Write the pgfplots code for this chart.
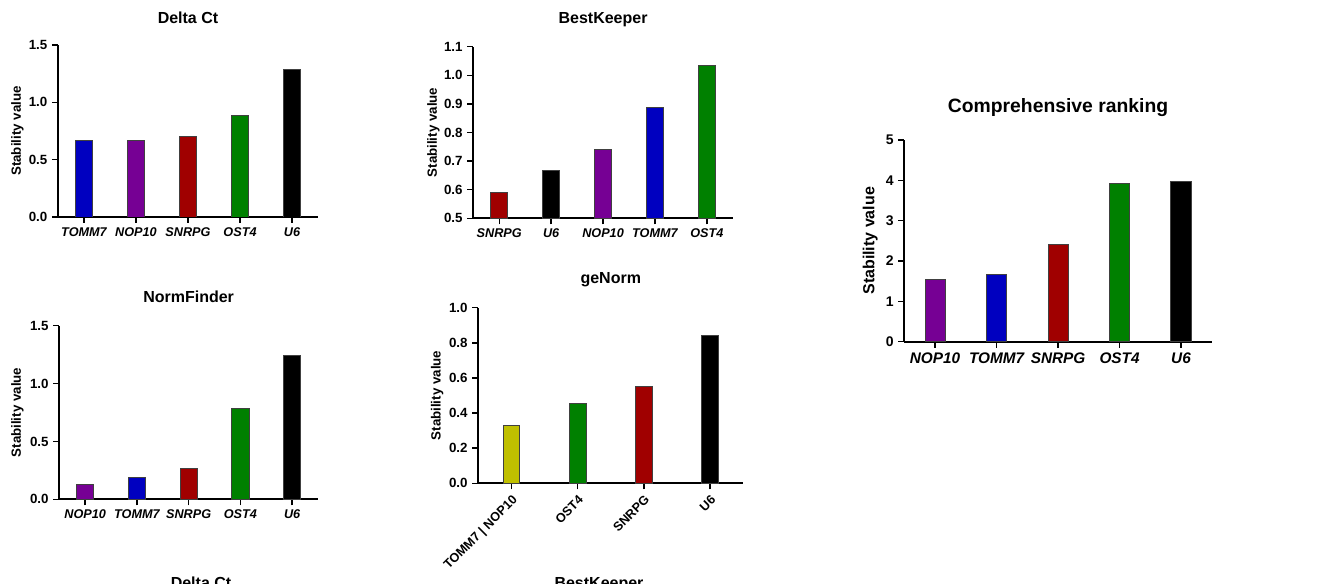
\documentclass[border=0pt]{standalone}
\usepackage{fontspec}
\setmainfont{Liberation Sans}
\usepackage{pgfplots}
\pgfplotsset{compat=1.18}
\definecolor{cBlue}{RGB}{0,0,192}
\definecolor{cPurple}{RGB}{118,0,148}
\definecolor{cRed}{RGB}{160,0,0}
\definecolor{cGreen}{RGB}{0,128,0}
\definecolor{cOlive}{RGB}{192,192,0}
\pgfplotsset{
  panel/.style={
    scale only axis,
    axis x line*=bottom, axis y line*=left,
    axis line style={line width=1.4pt, black, -},
    tick style={line width=1.1pt, black},
    tick align=outside,
    major tick length=4.5pt,
    /pgf/number format/assume math mode=true,
    yticklabel style={font=\bfseries\fontsize{10}{11}\selectfont, /pgf/number format/fixed, /pgf/number format/fixed zerofill, /pgf/number format/precision=1},
    xticklabel style={font=\bfseries\itshape\fontsize{9.5}{10}\selectfont},
    ylabel={Stability value},
    ylabel style={font=\bfseries\fontsize{10}{11}\selectfont},
    title style={font=\bfseries\fontsize{12}{13}\selectfont},
    xtick={0,1,2,3,4},
    xmin=-0.5, xmax=4.5,
  },
  bar/.style={ybar, bar shift=0pt, bar width=0.33, draw=black!75, line width=0.6pt, fill=#1},
}
\begin{document}
\begin{tikzpicture}
\useasboundingbox (0pt,0pt) rectangle (994.5pt,438pt);
% Delta Ct
\begin{axis}[panel, at={(43.5pt,275.25pt)}, anchor=south west, width=195pt, height=129pt,
  ymin=0, ymax=1.5, ytick={0,0.5,1,1.5},
  xticklabels={TOMM7,NOP10,SNRPG,OST4,U6},
  title={Delta Ct},
  title style={at={(axis description cs:0.5,1)}, anchor=base, yshift=9.75pt},
  ylabel style={at={(axis description cs:-0.156,0.5)}, anchor=center}]
\addplot[bar=cBlue] coordinates {(0,0.664)};
\addplot[bar=cPurple] coordinates {(1,0.670)};
\addplot[bar=cRed] coordinates {(2,0.707)};
\addplot[bar=cGreen] coordinates {(3,0.889)};
\addplot[bar=black] coordinates {(4,1.290)};
\end{axis}
% BestKeeper
\begin{axis}[panel, at={(354.98pt,274.28pt)}, anchor=south west, width=194.6pt, height=128.7pt,
  ymin=0.5, ymax=1.1, ytick={0.5,0.6,0.7,0.8,0.9,1.0,1.1},
  xticklabels={SNRPG,U6,NOP10,TOMM7,OST4},
  title={BestKeeper},
  title style={at={(axis description cs:0.5,1)}, anchor=base, yshift=11.2pt},
  ylabel style={at={(axis description cs:-0.154,0.5)}, anchor=center}]
\addplot[bar=cRed] coordinates {(0,0.591)};
\addplot[bar=black] coordinates {(1,0.668)};
\addplot[bar=cPurple] coordinates {(2,0.741)};
\addplot[bar=cBlue] coordinates {(3,0.889)};
\addplot[bar=cGreen] coordinates {(4,1.035)};
\end{axis}
% NormFinder
\begin{axis}[panel, at={(44.48pt,63.53pt)}, anchor=south west, width=194pt, height=130.2pt,
  ymin=0, ymax=1.5, ytick={0,0.5,1,1.5},
  xticklabels={NOP10,TOMM7,SNRPG,OST4,U6},
  title={NormFinder},
  title style={at={(axis description cs:0.5,1)}, anchor=base, yshift=11.5pt},
  ylabel style={at={(axis description cs:-0.162,0.5)}, anchor=center}]
\addplot[bar=cPurple] coordinates {(0,0.130)};
\addplot[bar=cBlue] coordinates {(1,0.190)};
\addplot[bar=cRed] coordinates {(2,0.264)};
\addplot[bar=cGreen] coordinates {(3,0.786)};
\addplot[bar=black] coordinates {(4,1.246)};
\end{axis}
% geNorm
\begin{axis}[panel, at={(358.7pt,75.53pt)}, anchor=south west, width=198.75pt, height=131.7pt,
  ymin=0, ymax=1.0, ytick={0,0.2,0.4,0.6,0.8,1.0},
  xmin=-0.5, xmax=3.5, xtick={0,1,2,3},
  xticklabels={TOMM7 | NOP10,OST4,SNRPG,U6},
  xticklabel style={font=\bfseries\fontsize{9.5}{10}\selectfont, rotate=45, anchor=north east, inner sep=2.5pt},
  title={geNorm},
  title style={at={(axis description cs:0.5,1)}, anchor=base, yshift=11.8pt},
  ylabel style={at={(axis description cs:-0.155,0.5)}, anchor=center}]
\addplot[bar=cOlive, bar width=0.25] coordinates {(0,0.330)};
\addplot[bar=cGreen, bar width=0.25] coordinates {(1,0.455)};
\addplot[bar=cRed, bar width=0.25] coordinates {(2,0.550)};
\addplot[bar=black, bar width=0.25] coordinates {(3,0.844)};
\end{axis}
% Comprehensive ranking
\begin{axis}[panel, at={(678.23pt,181.73pt)}, anchor=south west, width=230.6pt, height=151.3pt,
  ymin=0, ymax=5, ytick={0,1,2,3,4,5},
  yticklabel style={font=\bfseries\fontsize{10.5}{11}\selectfont, /pgf/number format/fixed, /pgf/number format/fixed zerofill=false, /pgf/number format/precision=0},
  xticklabels={NOP10,TOMM7,SNRPG,OST4,U6},
  xticklabel style={font=\bfseries\itshape\fontsize{11.5}{12}\selectfont},
  ylabel style={font=\bfseries\fontsize{12}{13}\selectfont, at={(axis description cs:-0.111,0.5)}, anchor=center},
  title={Comprehensive ranking},
  title style={font=\bfseries\fontsize{14.5}{15}\selectfont, at={(axis description cs:0.5,1)}, anchor=base, yshift=14.75pt}]
\addplot[bar=cPurple] coordinates {(0,1.55)};
\addplot[bar=cBlue] coordinates {(1,1.68)};
\addplot[bar=cRed] coordinates {(2,2.42)};
\addplot[bar=cGreen] coordinates {(3,3.93)};
\addplot[bar=black] coordinates {(4,3.97)};
\end{axis}
% cut-off titles of the panels below
\node[anchor=base, font=\bfseries\fontsize{12}{13}\selectfont] at (150.75pt,-3.4pt) {Delta Ct};
\node[anchor=base, font=\bfseries\fontsize{12}{13}\selectfont] at (449.25pt,-3.4pt) {BestKeeper};
\end{tikzpicture}
\end{document}
